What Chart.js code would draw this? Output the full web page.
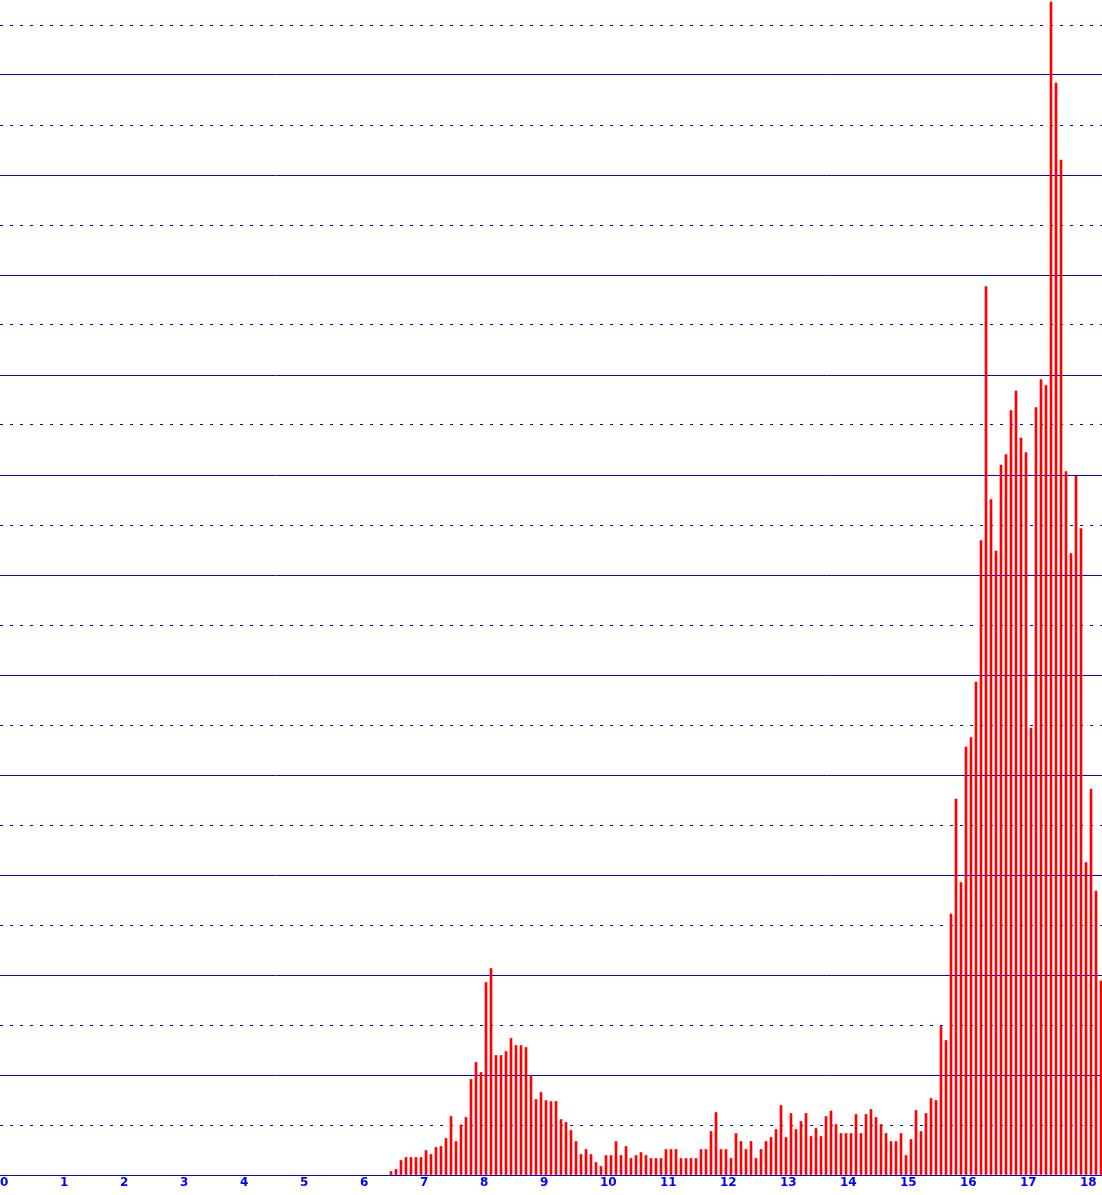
<!DOCTYPE html>
<html>
<head>
<meta charset="utf-8">
<title>Histogram</title>
<script src="https://cdn.jsdelivr.net/npm/chart.js@4/dist/chart.umd.min.js"></script>
<style>
    html, body { margin: 0; padding: 0; background: #ffffff; }
    #wrap { position: relative; width: 1102px; height: 1195px; }
</style>
</head>
<body>
<div id="wrap"><canvas id="histChart"></canvas></div>
<script>
// Hour labels along the bottom
const hourLabels = ['0', '1', '2', '3', '4', '5', '6', '7', '8', '9', '10',
    '11', '12', '13', '14', '15', '16', '17', '18'];

// 5-minute slots, 12 per hour; first non-empty slot is 6:30
const slotsPerHour = 12;
const firstSlot = 78;

// Bar heights (one unit = one grid step)
const slotValues = [
    0.07, 0.11, 0.29, 0.35, 0.35, 0.35, 0.35, 0.49, 0.41, 0.55, 0.57, 0.73,  // 6:30
    1.17, 0.67, 1.00, 1.15, 1.91, 2.25, 2.05, 3.85, 4.13, 2.39, 2.39, 2.47,  // 7:30
    2.73, 2.59, 2.59, 2.55, 1.99, 1.51, 1.65, 1.49, 1.47, 1.47, 1.11, 1.05,  // 8:30
    0.89, 0.67, 0.41, 0.51, 0.41, 0.25, 0.17, 0.39, 0.39, 0.67, 0.39, 0.57,  // 9:30
    0.33, 0.39, 0.45, 0.39, 0.33, 0.33, 0.33, 0.51, 0.51, 0.51, 0.33, 0.33,  // 10:30
    0.33, 0.33, 0.51, 0.51, 0.87, 1.25, 0.51, 0.51, 0.33, 0.83, 0.67, 0.51,  // 11:30
    0.67, 0.33, 0.51, 0.67, 0.75, 0.91, 1.39, 0.75, 1.23, 0.91, 1.07, 1.23,  // 12:30
    0.77, 0.93, 0.77, 1.17, 1.28, 1.01, 0.83, 0.83, 0.83, 1.21, 0.83, 1.21,  // 13:30
    1.31, 1.15, 1.01, 0.83, 0.67, 0.67, 0.83, 0.39, 0.71, 1.29, 0.87, 1.23,  // 14:30
    1.53, 1.49, 2.97, 2.69, 5.22, 7.52, 5.85, 8.56, 8.75, 9.86, 12.69, 17.77, // 15:30
    13.51, 12.48, 14.20, 14.41, 15.29, 15.68, 14.74, 14.45, 8.94, 15.35, 15.91, 15.79, // 16:30
    23.46, 21.84, 20.30, 14.07, 12.43, 13.98, 12.93, 6.25, 7.72, 5.68, 3.88  // 17:30
];

const gridBlue = '#0000ff';
const barRed = '#ff0000';

function onlyWholeTicks(scale) {
    scale.ticks = scale.ticks.filter(t => Number.isInteger(t.value));
}

const points = slotValues.map((v, k) => ({ x: (firstSlot + k) / slotsPerHour, y: v }));

const ctx = document.getElementById('histChart').getContext('2d');
new Chart(ctx, {
    type: 'bar',
    data: {
        datasets: [{
            data: points,
            backgroundColor: barRed,
            borderWidth: 0,
            barThickness: 2,
            yAxisID: 'y'
        }]
    },
    options: {
        responsive: true,
        maintainAspectRatio: false,
        animation: false,
        layout: { padding: 0 },
        plugins: {
            legend: { display: false },
            tooltip: { enabled: false }
        },
        scales: {
            x: {
                type: 'linear',
                // 60px per hour, bars sit one pixel right of the slot start
                min: -1 / 60,
                max: 1101 / 60,
                offset: false,
                grid: { display: false, offset: false, drawTicks: false },
                border: { display: true, color: gridBlue, width: 1 },
                afterBuildTicks: onlyWholeTicks,
                afterFit: scale => { scale.height = 20; },
                ticks: {
                    stepSize: 1,
                    includeBounds: false,
                    align: 'start',
                    labelOffset: -1,
                    padding: 1,
                    maxRotation: 0,
                    autoSkip: false,
                    color: gridBlue,
                    font: { family: 'DejaVu Sans', size: 12, weight: 'bold' },
                    callback: v => hourLabels[v]
                }
            },
            y: {
                position: 'left',
                min: 0,
                max: 23.5,
                grid: { color: gridBlue, lineWidth: 1, drawTicks: false },
                border: { display: false },
                afterBuildTicks: onlyWholeTicks,
                afterFit: scale => { scale.width = 0; },
                ticks: { display: false, stepSize: 2, includeBounds: false }
            },
            y2: {
                position: 'left',
                min: 0,
                max: 23.5,
                grid: {
                    color: c => (c.tick && c.tick.value % 2 === 1) ? gridBlue : 'rgba(0,0,0,0)',
                    lineWidth: 1,
                    drawTicks: false
                },
                border: { display: false, dash: [3, 7] },
                afterBuildTicks: onlyWholeTicks,
                afterFit: scale => { scale.width = 0; },
                ticks: { display: false, stepSize: 1, includeBounds: false }
            }
        }
    }
});
</script>
</body>
</html>
